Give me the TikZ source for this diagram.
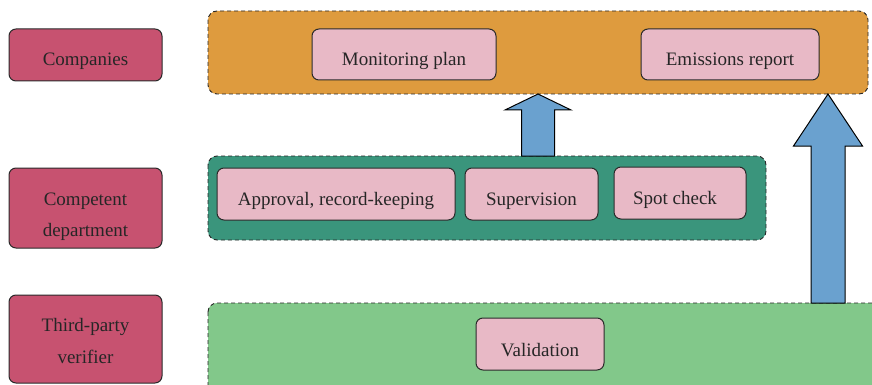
\documentclass[tikz,border=0pt]{standalone}
\usepackage{fontspec}
\setmainfont{Liberation Serif}
\usetikzlibrary{calc}
\definecolor{lblpink}{HTML}{C75270}
\definecolor{orangebg}{HTML}{DE9B3E}
\definecolor{tealbg}{HTML}{3A957C}
\definecolor{greenbg}{HTML}{82C88A}
\definecolor{innerpink}{HTML}{E8B9C6}
\definecolor{arrowblue}{HTML}{6AA1CF}
\definecolor{edge}{HTML}{2A2A2A}
\begin{document}
\begin{tikzpicture}[x=1pt,y=-1pt,
  lbl/.style={draw=edge,line width=1pt,fill=lblpink,rounded corners=7pt,inner sep=0pt},
  panel/.style={draw=black!85,line width=0.9pt,dash pattern=on 4pt off 3pt,rounded corners=9pt},
  inbox/.style={draw=edge,line width=1pt,fill=innerpink,rounded corners=7pt,inner sep=0pt},
  txt/.style={anchor=base,inner sep=0pt,font=\fontsize{19}{23}\selectfont,text=black!85},
  bigarrow/.style={draw=black,line width=1pt,fill=arrowblue,line join=miter}]
\useasboundingbox (0,0) rectangle (872,385);
\clip (0,0) rectangle (872,385);
% left labels
\node[lbl,minimum width=153pt,minimum height=52pt] (comp) at (85.5,55) {};
\node[txt] (compT) at ($(comp)+(0,11)$) {Companies};
\node[lbl,minimum width=153pt,minimum height=80pt] (dept) at (85.5,208) {};
\node[txt] (deptT1) at ($(dept)+(0,-3)$) {Competent};
\node[txt] (deptT2) at ($(dept)+(0,28)$) {department};
\node[lbl,minimum width=153pt,minimum height=88pt] (veri) at (85.5,339) {};
\node[txt] (veriT1) at ($(veri)+(0,-8)$) {Third-party};
\node[txt] (veriT2) at ($(veri)+(0,24)$) {verifier};
% panels
\draw[panel,fill=orangebg] (208,11) rectangle (868,94);
\coordinate (orS1) at (538,94);
\coordinate (orS2) at (828,94);
\draw[panel,fill=tealbg] (208,156) rectangle (766,240);
\coordinate (teN) at (538,156);
\draw[panel,fill=greenbg] (208,303) rectangle (884,400);
\coordinate (grN) at (828,303);
% inner boxes
\node[inbox,minimum width=184pt,minimum height=51pt] (plan) at (404,54.5) {};
\node[txt] at ($(plan)+(0,11)$) {Monitoring plan};
\node[inbox,minimum width=178pt,minimum height=51pt] (report) at (730,54.5) {};
\node[txt] at ($(report)+(0,11)$) {Emissions report};
\node[inbox,minimum width=238pt,minimum height=52pt] (appr) at (336,194) {};
\node[txt] at ($(appr)+(0,11)$) {Approval, record-keeping};
\node[inbox,minimum width=133pt,minimum height=52pt] (sup) at (531.5,194) {};
\node[txt] at ($(sup)+(0,11)$) {Supervision};
\node[inbox,minimum width=132pt,minimum height=52pt] (spot) at (680,193) {};
\node[txt] at ($(spot)+(-5,11)$) {Spot check};
\node[inbox,minimum width=128pt,minimum height=52pt] (valid) at (540,344) {};
\node[txt] at ($(valid)+(0,12)$) {Validation};
% arrows
\draw[bigarrow] ($(teN)+(-16.5,0)$) -- ($(orS1)+(-16.5,16)$) -- ($(orS1)+(-33,16)$) -- (orS1)
  -- ($(orS1)+(33,16)$) -- ($(orS1)+(16.5,16)$) -- ($(teN)+(16.5,0)$) -- cycle;
\draw[bigarrow] ($(grN)+(-17,0)$) -- ($(orS2)+(-17,52)$) -- ($(orS2)+(-34.5,52)$) -- (orS2)
  -- ($(orS2)+(34.5,52)$) -- ($(orS2)+(17,52)$) -- ($(grN)+(17,0)$) -- cycle;
\end{tikzpicture}
\end{document}
